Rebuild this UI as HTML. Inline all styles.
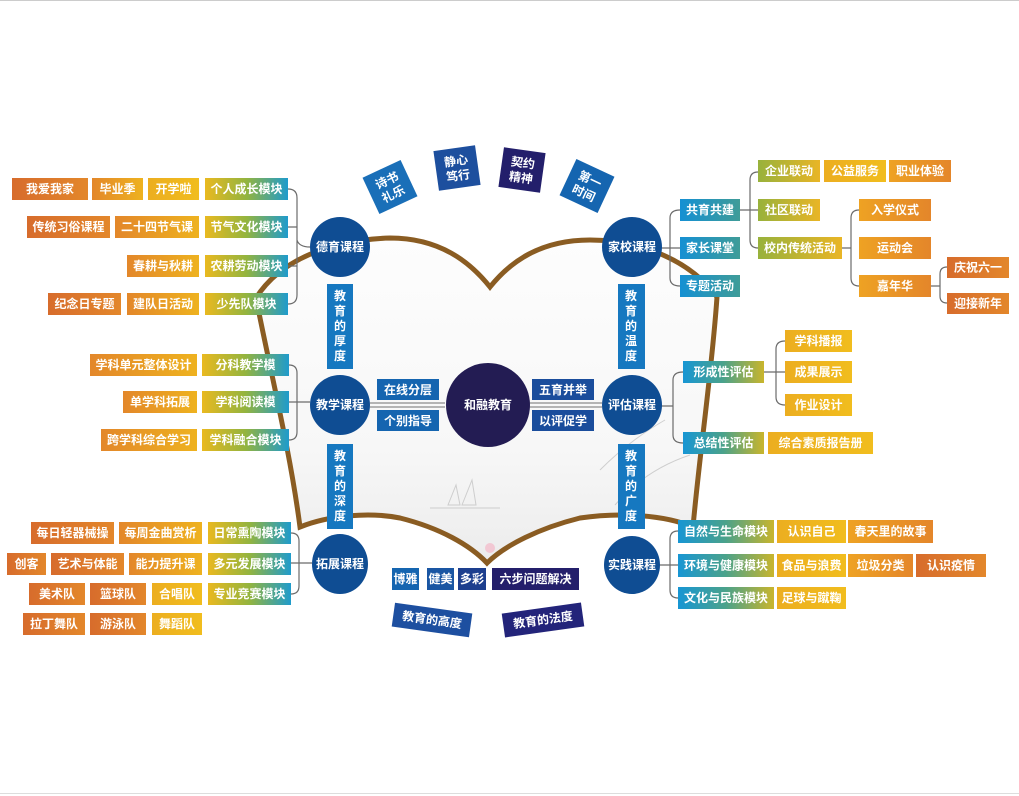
<!DOCTYPE html>
<html><head><meta charset="utf-8"><style>
html,body{margin:0;padding:0;background:#fff;}
svg{display:block;}
text{font-family:"Liberation Sans","Noto Sans CJK SC",sans-serif;font-weight:bold;fill:#fff;font-size:12px;text-anchor:middle;dominant-baseline:central;}
.br{fill:none;stroke:#6b6b6b;stroke-width:1.2;}
</style></head><body>
<svg width="1019" height="796" viewBox="0 0 1019 796" xmlns="http://www.w3.org/2000/svg">
<defs>
<linearGradient id="ml" x1="0" x2="1"><stop offset="0" stop-color="#e9b920"/><stop offset="0.5" stop-color="#93b43f"/><stop offset="1" stop-color="#1f9bcc"/></linearGradient>
<linearGradient id="mr" x1="0" x2="1"><stop offset="0" stop-color="#1796d4"/><stop offset="0.5" stop-color="#4ba28a"/><stop offset="1" stop-color="#c9b52c"/></linearGradient>
<linearGradient id="bl" x1="0" x2="1"><stop offset="0" stop-color="#1590d3"/><stop offset="1" stop-color="#3f9c98"/></linearGradient>
<linearGradient id="or" x1="0" x2="1"><stop offset="0" stop-color="#d76c2c"/><stop offset="1" stop-color="#e3872b"/></linearGradient>
<linearGradient id="oy" x1="0" x2="1"><stop offset="0" stop-color="#e3872a"/><stop offset="1" stop-color="#eeb21f"/></linearGradient>
<linearGradient id="om" x1="0" x2="1"><stop offset="0" stop-color="#eea223"/><stop offset="1" stop-color="#e4862a"/></linearGradient>
<linearGradient id="ye" x1="0" x2="1"><stop offset="0" stop-color="#ecae20"/><stop offset="1" stop-color="#f1bd1e"/></linearGradient>
<linearGradient id="gy" x1="0" x2="1"><stop offset="0" stop-color="#98b23c"/><stop offset="1" stop-color="#e9b526"/></linearGradient>
<linearGradient id="bk" x1="0" x2="0" y1="0" y2="1"><stop offset="0" stop-color="#fdfdfd"/><stop offset="0.65" stop-color="#f7f7f7"/><stop offset="1" stop-color="#ececec"/></linearGradient>
</defs>
<line x1="0" y1="0.5" x2="1019" y2="0.5" stroke="#ccc"/>
<line x1="0" y1="793.5" x2="1019" y2="793.5" stroke="#ddd"/>

<path d="M256,298 C280,260 330,240 390,238 C440,238 470,262 490,287 C510,262 540,240 590,240 C640,240 690,260 717,297 C712,370 700,450 693,527 C665,515 620,512 580,518 C540,528 505,545 487,563 C470,545 440,528 400,518 C370,512 330,515 300,527 C290,450 270,370 256,298 Z" fill="url(#bk)" stroke="#8a5c22" stroke-width="5"/>
<g fill="none" stroke="#b5b5b5" stroke-width="1" opacity="0.6">
<path d="M448,505 L456,485 L460,505 Z"/><path d="M462,505 L472,480 L476,505 Z"/>
<path d="M430,508 L500,508"/>
<path d="M600,470 Q630,440 665,420"/><path d="M615,505 Q645,470 690,455"/>
</g>
<circle cx="490" cy="548" r="5" fill="#f3b8c8" opacity="0.7"/>

<path class="br" d="M288,189 Q297,189 297,198 L297,295 Q297,304 288,304 M288,227 L297,227 M288,266 L297,266 M297,240 Q299,247 310,247"/>
<path class="br" d="M289,365 Q297,365 297,373 L297,432 Q297,440 289,440 M289,402 L310,402"/>
<path class="br" d="M291,533 Q299,533 299,541 L299,586 Q299,594 291,594 M291,563 L312,563"/>
<path class="br" d="M680,210 Q670,210 670,218 L670,278 Q670,286 680,286 M661,248 L680,248"/>
<path class="br" d="M758,172 Q750,172 750,180 L750,240 Q750,248 758,248 M740,210 L758,210"/>
<path class="br" d="M859,210 Q851,210 851,218 L851,278 Q851,286 859,286 M842,248 L851,248"/>
<path class="br" d="M947,267 Q940,267 940,274 L940,296 Q940,303 947,303 M931,286 L940,286"/>
<path class="br" d="M683,372 Q673,372 673,380 L673,435 Q673,443 683,443 M661,406 L673,406"/>
<path class="br" d="M785,341 Q776,341 776,349 L776,397 Q776,405 785,405 M764,372 L785,372"/>
<path class="br" d="M678,531 Q670,531 670,539 L670,590 Q670,598 678,598 M659,565 L678,565"/>
<path d="M370,403 L445,403 M370,407 L445,407 M528,403 L602,403 M528,407 L602,407" stroke="#8c8c8c" stroke-width="1.2"/>

<circle cx="340" cy="247" r="30" fill="#0f4d93"/><text x="340" y="247" font-size="13">德育课程</text>
<circle cx="340" cy="405" r="30" fill="#0f4d93"/><text x="340" y="405" font-size="13">教学课程</text>
<ellipse cx="340" cy="564" rx="28" ry="30" fill="#0f4d93"/><text x="340" y="564" font-size="13">拓展课程</text>
<circle cx="632" cy="247" r="30" fill="#0f4d93"/><text x="632" y="247" font-size="13">家校课程</text>
<circle cx="632" cy="405" r="30" fill="#0f4d93"/><text x="632" y="405" font-size="13">评估课程</text>
<ellipse cx="632" cy="565" rx="28" ry="29" fill="#0f4d93"/><text x="632" y="565" font-size="13">实践课程</text>
<circle cx="488" cy="405" r="42" fill="#231c53"/><text x="488" y="405" font-size="16">和融教育</text>

<g font-size="13">
<rect x="327" y="284" width="26" height="85" fill="#1678c0"/>
<text x="340" y="296">教</text><text x="340" y="311">育</text><text x="340" y="326">的</text><text x="340" y="341">厚</text><text x="340" y="356">度</text>
<rect x="327" y="444" width="26" height="85" fill="#1678c0"/>
<text x="340" y="456">教</text><text x="340" y="471">育</text><text x="340" y="486">的</text><text x="340" y="501">深</text><text x="340" y="516">度</text>
<rect x="618" y="284" width="27" height="85" fill="#1678c0"/>
<text x="631" y="296">教</text><text x="631" y="311">育</text><text x="631" y="326">的</text><text x="631" y="341">温</text><text x="631" y="356">度</text>
<rect x="618" y="444" width="27" height="85" fill="#1678c0"/>
<text x="631" y="456">教</text><text x="631" y="471">育</text><text x="631" y="486">的</text><text x="631" y="501">广</text><text x="631" y="516">度</text>
</g>

<rect x="377" y="379" width="62" height="21" fill="#1565b0"/><text x="408" y="390">在线分层</text>
<rect x="377" y="410" width="62" height="21" fill="#1565b0"/><text x="408" y="421">个别指导</text>
<rect x="532" y="379" width="62" height="21" fill="#1a4d9c"/><text x="563" y="390">五育并举</text>
<rect x="532" y="410" width="62" height="21" fill="#1a4d9c"/><text x="563" y="421">以评促学</text>

<rect x="392" y="568" width="27" height="22" fill="#1565b0"/><text x="405.5" y="579">博雅</text>
<rect x="427" y="568" width="27" height="22" fill="#1a56a3"/><text x="440.5" y="579">健美</text>
<rect x="458" y="568" width="28" height="22" fill="#1d3f8e"/><text x="472" y="579">多彩</text>
<rect x="492" y="568" width="87" height="22" fill="#241f6b"/><text x="535.5" y="579">六步问题解决</text>
<g transform="translate(432,620) rotate(8)"><rect x="-39" y="-12" width="78" height="24" fill="#1d4fa0"/><text x="0" y="0">教育的高度</text></g>
<g transform="translate(543,620) rotate(-8)"><rect x="-40" y="-12" width="80" height="24" fill="#23247a"/><text x="0" y="0">教育的法度</text></g>

<g transform="translate(390,187) rotate(-25)"><rect x="-21" y="-20" width="42" height="40" fill="#1a6fb8"/><text x="0" y="-7">诗书</text><text x="0" y="8">礼乐</text></g>
<g transform="translate(457,168) rotate(-8)"><rect x="-21" y="-20" width="42" height="40" fill="#1d4f9e"/><text x="0" y="-7">静心</text><text x="0" y="8">笃行</text></g>
<g transform="translate(522,170) rotate(8)"><rect x="-21" y="-20" width="42" height="40" fill="#231f6b"/><text x="0" y="-7">契约</text><text x="0" y="8">精神</text></g>
<g transform="translate(587,186) rotate(25)"><rect x="-21" y="-20" width="42" height="40" fill="#1565b0"/><text x="0" y="-7">第一</text><text x="0" y="8">时间</text></g>

<rect x="12" y="178" width="76" height="22" fill="url(#or)"/><text x="50" y="189">我爱我家</text>
<rect x="92" y="178" width="51" height="22" fill="url(#oy)"/><text x="117.5" y="189">毕业季</text>
<rect x="148" y="178" width="51" height="22" fill="url(#ye)"/><text x="173.5" y="189">开学啦</text>
<rect x="205" y="178" width="83" height="22" fill="url(#ml)"/><text x="246.5" y="189">个人成长模块</text>
<rect x="27" y="216" width="83" height="22" fill="url(#or)"/><text x="68.5" y="227">传统习俗课程</text>
<rect x="115" y="216" width="84" height="22" fill="url(#oy)"/><text x="157" y="227">二十四节气课</text>
<rect x="205" y="216" width="83" height="22" fill="url(#ml)"/><text x="246.5" y="227">节气文化模块</text>
<rect x="127" y="255" width="72" height="22" fill="url(#oy)"/><text x="163" y="266">春耕与秋耕</text>
<rect x="205" y="255" width="83" height="22" fill="url(#ml)"/><text x="246.5" y="266">农耕劳动模块</text>
<rect x="48" y="293" width="73" height="22" fill="url(#or)"/><text x="84.5" y="304">纪念日专题</text>
<rect x="127" y="293" width="72" height="22" fill="url(#oy)"/><text x="163" y="304">建队日活动</text>
<rect x="205" y="293" width="83" height="22" fill="url(#ml)"/><text x="246.5" y="304">少先队模块</text>
<rect x="90" y="354" width="107" height="22" fill="url(#oy)"/><text x="143.5" y="365">学科单元整体设计</text>
<rect x="202" y="354" width="87" height="22" fill="url(#ml)"/><text x="245.5" y="365">分科教学模</text>
<rect x="123" y="391" width="74" height="22" fill="url(#oy)"/><text x="160" y="402">单学科拓展</text>
<rect x="202" y="391" width="87" height="22" fill="url(#ml)"/><text x="245.5" y="402">学科阅读模</text>
<rect x="101" y="429" width="96" height="22" fill="url(#oy)"/><text x="149" y="440">跨学科综合学习</text>
<rect x="202" y="429" width="87" height="22" fill="url(#ml)"/><text x="245.5" y="440">学科融合模块</text>
<rect x="31" y="522" width="83" height="22" fill="url(#or)"/><text x="72.5" y="533">每日轻器械操</text>
<rect x="119" y="522" width="83" height="22" fill="url(#oy)"/><text x="160.5" y="533">每周金曲赏析</text>
<rect x="208" y="522" width="83" height="22" fill="url(#ml)"/><text x="249.5" y="533">日常熏陶模块</text>
<rect x="7" y="553" width="39" height="22" fill="url(#or)"/><text x="26.5" y="564">创客</text>
<rect x="51" y="553" width="73" height="22" fill="url(#or)"/><text x="87.5" y="564">艺术与体能</text>
<rect x="129" y="553" width="73" height="22" fill="url(#oy)"/><text x="165.5" y="564">能力提升课</text>
<rect x="208" y="553" width="83" height="22" fill="url(#ml)"/><text x="249.5" y="564">多元发展模块</text>
<rect x="29" y="583" width="56" height="22" fill="url(#or)"/><text x="57" y="594">美术队</text>
<rect x="90" y="583" width="56" height="22" fill="url(#or)"/><text x="118" y="594">篮球队</text>
<rect x="152" y="583" width="50" height="22" fill="url(#ye)"/><text x="177" y="594">合唱队</text>
<rect x="208" y="583" width="83" height="22" fill="url(#ml)"/><text x="249.5" y="594">专业竞赛模块</text>
<rect x="23" y="613" width="62" height="22" fill="url(#or)"/><text x="54" y="624">拉丁舞队</text>
<rect x="90" y="613" width="56" height="22" fill="url(#or)"/><text x="118" y="624">游泳队</text>
<rect x="152" y="613" width="50" height="22" fill="url(#ye)"/><text x="177" y="624">舞蹈队</text>

<rect x="680" y="199" width="60" height="22" fill="url(#bl)"/><text x="710" y="210">共育共建</text>
<rect x="680" y="237" width="60" height="22" fill="url(#bl)"/><text x="710" y="248">家长课堂</text>
<rect x="680" y="275" width="60" height="22" fill="url(#bl)"/><text x="710" y="286">专题活动</text>
<rect x="758" y="160" width="62" height="22" fill="url(#gy)"/><text x="789" y="171">企业联动</text>
<rect x="824" y="160" width="62" height="22" fill="url(#ye)"/><text x="855" y="171">公益服务</text>
<rect x="889" y="160" width="62" height="22" fill="url(#om)"/><text x="920" y="171">职业体验</text>
<rect x="758" y="199" width="62" height="22" fill="url(#gy)"/><text x="789" y="210">社区联动</text>
<rect x="758" y="237" width="84" height="22" fill="url(#gy)"/><text x="800" y="248">校内传统活动</text>
<rect x="859" y="199" width="72" height="22" fill="url(#om)"/><text x="895" y="210">入学仪式</text>
<rect x="859" y="237" width="72" height="22" fill="url(#om)"/><text x="895" y="248">运动会</text>
<rect x="859" y="275" width="72" height="22" fill="url(#om)"/><text x="895" y="286">嘉年华</text>
<rect x="947" y="257" width="62" height="21" fill="url(#or)"/><text x="978" y="267.5">庆祝六一</text>
<rect x="947" y="293" width="62" height="21" fill="url(#or)"/><text x="978" y="303.5">迎接新年</text>
<rect x="683" y="361" width="81" height="22" fill="url(#mr)"/><text x="723.5" y="372">形成性评估</text>
<rect x="785" y="330" width="67" height="22" fill="url(#ye)"/><text x="818.5" y="341">学科播报</text>
<rect x="785" y="361" width="67" height="22" fill="url(#ye)"/><text x="818.5" y="372">成果展示</text>
<rect x="785" y="394" width="67" height="22" fill="url(#ye)"/><text x="818.5" y="405">作业设计</text>
<rect x="683" y="432" width="81" height="22" fill="url(#mr)"/><text x="723.5" y="443">总结性评估</text>
<rect x="768" y="432" width="105" height="22" fill="url(#ye)"/><text x="820.5" y="443">综合素质报告册</text>
<rect x="678" y="520" width="96" height="23" fill="url(#mr)"/><text x="726" y="531.5">自然与生命模块</text>
<rect x="777" y="520" width="69" height="23" fill="url(#ye)"/><text x="811.5" y="531.5">认识自己</text>
<rect x="848" y="520" width="85" height="23" fill="url(#om)"/><text x="890.5" y="531.5">春天里的故事</text>
<rect x="678" y="554" width="96" height="23" fill="url(#mr)"/><text x="726" y="565.5">环境与健康模块</text>
<rect x="777" y="554" width="69" height="23" fill="url(#ye)"/><text x="811.5" y="565.5">食品与浪费</text>
<rect x="848" y="554" width="65" height="23" fill="url(#om)"/><text x="880.5" y="565.5">垃圾分类</text>
<rect x="916" y="554" width="70" height="23" fill="url(#or)"/><text x="951" y="565.5">认识疫情</text>
<rect x="678" y="587" width="96" height="22" fill="url(#mr)"/><text x="726" y="598">文化与民族模块</text>
<rect x="777" y="587" width="69" height="22" fill="url(#ye)"/><text x="811.5" y="598">足球与蹴鞠</text>
</svg>
</body></html>
